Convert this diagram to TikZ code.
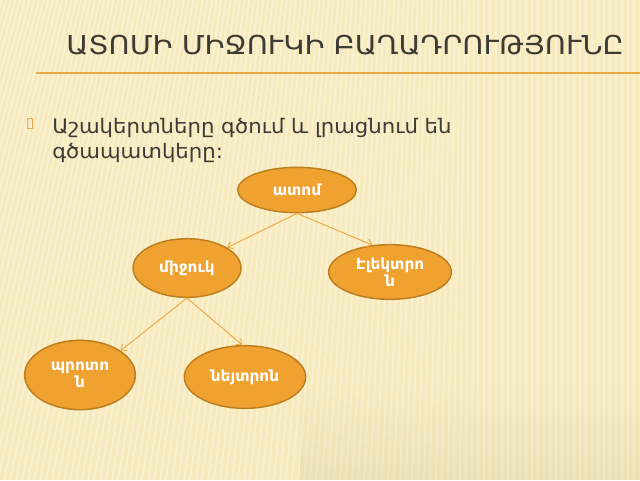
\documentclass[tikz,border=0pt]{standalone}
\usepackage{fontspec}
\setmainfont{DejaVu Sans}
\newfontfamily\ttlfont[FakeStretch=1.11]{DejaVu Sans}
\newfontfamily\bodyfont[FakeStretch=1.06]{DejaVu Sans}
\usetikzlibrary{arrows.meta,shapes.geometric,fadings}
\definecolor{bgc}{RGB}{247,234,188}
\definecolor{nodefill}{RGB}{240,162,48}
\definecolor{nodeline}{RGB}{188,126,30}
\definecolor{linec}{RGB}{240,168,64}
\definecolor{rulec}{RGB}{232,170,70}
\definecolor{txt}{RGB}{62,58,52}
\begin{document}
\begin{tikzpicture}[x=0.75pt,y=-0.75pt,
  bub/.style={ellipse,draw=nodeline,line width=1.1pt,fill=nodefill,text=white,
    font=\bfseries\fontsize{11.5}{12.5}\selectfont,align=center,inner sep=0pt},
  conn/.style={draw=linec,line width=0.7pt,-{Straight Barb[length=3.5pt,width=6pt]}},
  stripe/.style={white,opacity=0.35,line width=1.4pt}]
\fill[bgc] (0,0) rectangle (640,480);
\begin{scope}
  \clip (0,0) rectangle (640,480);
  \foreach \i in {-200,-194,...,646} {
    \pgfmathsetmacro{\tx}{\i+max(0,0.2206*(480-\i))}
    \draw[stripe] (\i,480) -- (\tx,0);
  }
  \fill[black,opacity=0.04,path fading=north] (300,380) rectangle (640,480);
\end{scope}
\useasboundingbox (0,0) rectangle (640,480);
% title
\node[anchor=base west,text=txt,font=\ttlfont\fontsize{19.5}{20}\selectfont,inner sep=0pt] (title) at (66,54) {ԱՏՈՄԻ ՄԻՋՈՒԿԻ ԲԱՂԱԴՐՈՒԹՅՈՒՆԸ};
\draw[rulec,line width=1.4pt] (36,73) -- (640,73);
% bullet and text
\node[draw=rulec,line width=0.6pt,rectangle,minimum width=3.5pt,minimum height=7.5pt,inner sep=0pt] (bul) at (30,123) {};
\node[anchor=base west,text=txt,font=\bodyfont\fontsize{15}{19}\selectfont,inner sep=0pt] (body1) at (52,133) {Աշակերտները գծում և լրացնում են};
\node[anchor=base west,text=txt,font=\bodyfont\fontsize{15}{19}\selectfont,inner sep=0pt] (body2) at (52,158) {գծապատկերը:};
% diagram
\node[bub,minimum width=89pt,minimum height=34pt] (atom) at (297,190) {ատոմ};
\node[bub,minimum width=81pt,minimum height=44pt] (miju) at (187,268) {միջուկ};
\node[bub,minimum width=92pt,minimum height=41pt] (elec) at (390,272) {Էլեկտրո\\ն};
\node[bub,minimum width=83pt,minimum height=52pt] (prot) at (80,375) {պրոտո\\ն};
\node[bub,minimum width=91pt,minimum height=47pt] (neut) at (245,377) {նեյտրոն};
\draw[conn] (atom.south) -- (miju.27);
\draw[conn] (atom.south) -- (elec.123);
\draw[conn] (miju.south) -- (prot.31);
\draw[conn] (miju.south) -- (neut.95);
\end{tikzpicture}
\end{document}
